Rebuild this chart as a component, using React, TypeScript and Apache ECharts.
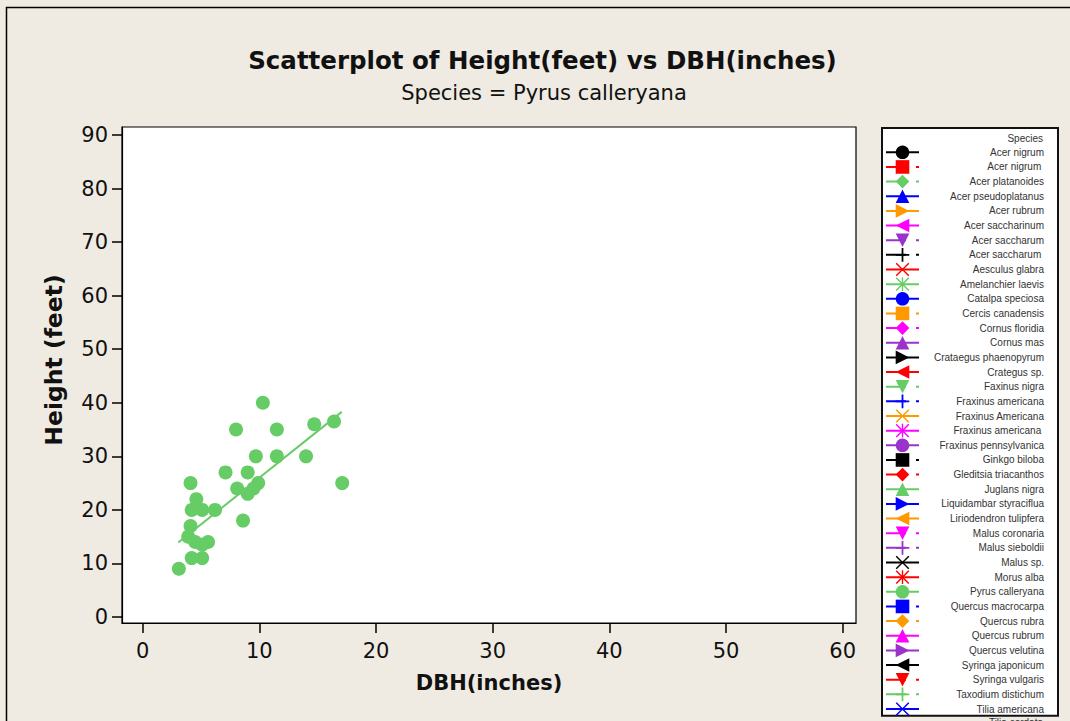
import React, { useEffect, useRef } from "react";
import * as echarts from "echarts";

// ---- data ----
const speciesNames = [
  "Acer nigrum", "Acer nigrum ", "Acer platanoides", "Acer pseudoplatanus", "Acer rubrum",
  "Acer saccharinum", "Acer saccharum", "Acer saccharum ", "Aesculus glabra", "Amelanchier laevis",
  "Catalpa speciosa", "Cercis canadensis", "Cornus floridia", "Cornus mas", "Crataegus phaenopyrum",
  "Crategus sp.", "Faxinus nigra", "Fraxinus americana", "Fraxinus Americana", "Fraxinus americana ",
  "Fraxinus pennsylvanica", "Ginkgo biloba", "Gleditsia triacanthos", "Juglans nigra", "Liquidambar styraciflua",
  "Liriodendron tulipfera", "Malus coronaria", "Malus sieboldii", "Malus sp.", "Morus alba",
  "Pyrus calleryana", "Quercus macrocarpa", "Quercus rubra", "Quercus rubrum", "Quercus velutina",
  "Syringa japonicum", "Syringa vulgaris", "Taxodium distichum", "Tilia americana",
];
const cutOffName = "Tilia cordata";

const dbh = [
  10.3, 8.0, 11.5, 14.7, 16.4, 9.7, 11.5, 14.0, 7.1, 9.0,
  4.1, 17.1, 9.9, 8.1, 9.5, 9.0, 4.6, 4.2, 5.1, 6.2,
  8.6, 4.1, 3.9, 4.5, 5.6, 5.1, 4.2, 5.1, 3.1,
];
const heightFt = [
  40, 35, 35, 36, 36.5, 30, 30, 30, 27, 27,
  25, 25, 25, 24, 24, 23, 22, 20, 20, 20,
  18, 17, 15, 14, 14, 13.5, 11, 11, 9,
];
const fitDbh = [3.05, 17.06];
const fitHeight = [13.9, 38.3];

const xTicks = [0, 10, 20, 30, 40, 50, 60];
const yTicks = [0, 10, 20, 30, 40, 50, 60, 70, 80, 90];

const titleText = "Scatterplot of Height(feet) vs DBH(inches)";
const subtitleText = "Species = Pyrus calleryana";
const xName = "DBH(inches)";
const yName = "Height (feet)";
const legendTitle = "Species";

// ---- styles ----
const COLORS = ["#000000", "#FF0000", "#66CC66", "#0000FF", "#FF9900", "#FF00FF", "#9933CC"];
const CROSS = "M0,1.5L1.5,0L10,8.5L18.5,0L20,1.5L11.5,10L20,18.5L18.5,20L10,11.5L1.5,20L0,18.5L8.5,10Z";
const SYMS = [
  "circle",
  "rect",
  "diamond",
  "triangle",
  "path://M0,0L20,10L0,20Z",
  "path://M20,0L0,10L20,20Z",
  "path://M0,0L20,0L10,20Z",
  "path://M8.7,0H11.3V8.7H20V11.3H11.3V20H8.7V11.3H0V8.7H8.7Z",
  "path://" + CROSS,
  "path://" + CROSS + "M9,0H11V20H9Z",
];
const DASHED = [false, true, true, false, false];
const GREEN = "#66CC66";
const FONT = "DejaVu Sans";

export default function App() {
  const ref = useRef<HTMLDivElement>(null);
  useEffect(() => {
    if (!ref.current) return;
    const chart = echarts.init(ref.current, undefined, { renderer: "svg" });

    const legendSeries = speciesNames.map((name, i) => ({
      name,
      type: "line",
      data: [],
      symbol: SYMS[i % SYMS.length],
      color: COLORS[i % COLORS.length],
      lineStyle: { width: 2, type: DASHED[i % DASHED.length] ? [20, 10] : "solid" },
      itemStyle: { borderWidth: 0 },
    }));

    const option: any = {
      animation: false,
      backgroundColor: "#EFEBE2",
      grid: {
        left: 122,
        top: 127,
        right: 1070 - 856,
        bottom: 721 - 623,
        show: true,
        backgroundColor: "#FFFFFF",
        borderColor: "#000000",
        borderWidth: 1.2,
      },
      xAxis: {
        type: "value",
        min: -1.774,
        max: 61.14,
        splitLine: { show: false },
        axisLine: { show: true, onZero: false, lineStyle: { color: "#000", width: 1.2 } },
        axisTick: { show: true, customValues: xTicks, length: 10, lineStyle: { color: "#000", width: 1.5 } },
        axisLabel: { customValues: xTicks, fontSize: 21, color: "#111", margin: 17, fontFamily: FONT },
        name: xName,
        nameLocation: "middle",
        nameGap: 49,
        nameTextStyle: { fontSize: 21, fontWeight: "bold", color: "#111", fontFamily: FONT },
      },
      yAxis: {
        type: "value",
        min: -1.12,
        max: 91.49,
        splitLine: { show: false },
        axisLine: { show: true, onZero: false, lineStyle: { color: "#000", width: 1.2 } },
        axisTick: { show: true, customValues: yTicks, length: 10, lineStyle: { color: "#000", width: 1.5 } },
        axisLabel: { customValues: yTicks, fontSize: 21, color: "#111", margin: 14, fontFamily: FONT },
        name: yName,
        nameLocation: "middle",
        nameGap: 56,
        nameTextStyle: { fontSize: 23.5, fontWeight: "bold", color: "#111", fontFamily: FONT, padding: [0, 0, 0, 30] },
      },
      legend: {
        orient: "vertical",
        left: 882,
        top: 128,
        itemWidth: 33,
        itemHeight: 17,
        itemGap: 1.05,
        padding: [17.5, 14, 0, 3],
        borderColor: "#111",
        borderWidth: 2,
        backgroundColor: "#FFFFFF",
        selectedMode: false,
        data: speciesNames,
        itemStyle: { borderWidth: 0 },
        formatter: (name: string) => "{t|" + name + "}",
        textStyle: {
          rich: {
            t: { width: 120, align: "right", fontSize: 10, fontFamily: "Liberation Sans", color: "#333" },
          },
        },
      },
      graphic: [
        {
          type: "rect",
          z: 100,
          shape: { x: 6.5, y: 7.5, width: 1200, height: 900 },
          style: { fill: "none", stroke: "#000", lineWidth: 1.5 },
          silent: true,
        },
        {
          type: "text",
          z: 100,
          x: 542.5,
          y: 60.5,
          style: {
            text: titleText, fontSize: 24.5, fontWeight: "bold", fontFamily: FONT, fill: "#111",
            align: "center", verticalAlign: "middle",
          },
        },
        {
          type: "text",
          z: 100,
          x: 544,
          y: 92.5,
          style: {
            text: subtitleText, fontSize: 21, fontFamily: FONT, fill: "#111",
            align: "center", verticalAlign: "middle",
          },
        },
        {
          type: "text",
          z: 100,
          x: 1043,
          y: 138,
          style: {
            text: legendTitle, fontSize: 10, fontFamily: "Liberation Sans", fill: "#333",
            align: "right", verticalAlign: "middle",
          },
        },
        {
          type: "text",
          z: 100,
          x: 1043,
          y: 717,
          style: {
            text: cutOffName, fontSize: 10, fontFamily: "Liberation Sans", fill: "#333",
            align: "right", verticalAlign: "top",
          },
        },
      ],
      series: [
        ...legendSeries,
        {
          name: "Pyrus calleryana points",
          type: "scatter",
          symbol: "circle",
          symbolSize: 14,
          itemStyle: { color: GREEN, opacity: 1 },
          data: dbh.map((d, i) => [d, heightFt[i]]),
          z: 3,
        },
        {
          name: "Pyrus calleryana fit",
          type: "line",
          showSymbol: false,
          symbol: "none",
          lineStyle: { color: GREEN, width: 2 },
          data: fitDbh.map((d, i) => [d, fitHeight[i]]),
          z: 4,
        },
      ],
    };
    chart.setOption(option);
    return () => chart.dispose();
  }, []);
  return (
    <div
      ref={ref}
      style={{ position: "absolute", left: 0, top: 0, width: 1070, height: 721 }}
    />
  );
}
